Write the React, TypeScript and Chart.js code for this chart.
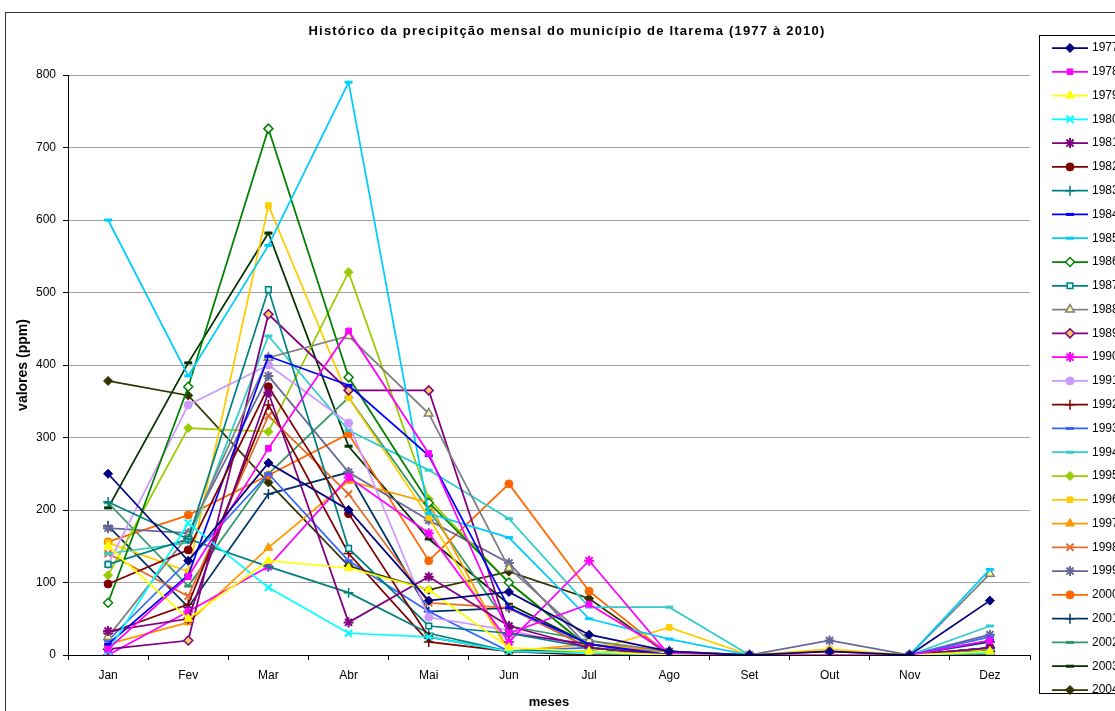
import React, { useEffect, useRef } from 'react';
import { Chart, registerables } from 'chart.js';
import { drawPoint } from 'chart.js/helpers';

Chart.register(...registerables);

const MONTHS = ['Jan', 'Fev', 'Mar', 'Abr', 'Mai', 'Jun', 'Jul', 'Ago', 'Set', 'Out', 'Nov', 'Dez'];
const Y_TICKS = [0, 100, 200, 300, 400, 500, 600, 700, 800];

const v1977 = [250, 130, 265, 200, 75, 87, 28, 5, 0, 5, 0, 75];
const v1978 = [8, 108, 285, 447, 278, 30, 70, 3, 0, 0, 0, 20];
const v1979 = [150, 50, 130, 120, 90, 10, 5, 0, 0, 0, 0, 5];
const v1980 = [5, 182, 93, 30, 25, 5, 3, 0, 0, 0, 0, 3];
const v1981 = [33, 50, 362, 45, 108, 40, 10, 0, 0, 0, 0, 10];
const v1982 = [98, 145, 370, 195, 25, 5, 0, 0, 0, 0, 0, 5];
const v1983 = [211, 160, 122, 86, 30, 5, 5, 0, 0, 0, 0, 10];
const v1984 = [15, 110, 412, 372, 275, 65, 15, 0, 0, 0, 0, 20];
const v1985 = [600, 385, 565, 790, 195, 162, 50, 22, 0, 0, 0, 118];
const v1986 = [72, 370, 726, 383, 210, 100, 10, 0, 0, 0, 0, 5];
const v1987 = [125, 160, 504, 147, 40, 30, 10, 0, 0, 0, 0, 5];
const v1988 = [25, 165, 410, 440, 333, 120, 20, 5, 0, 0, 0, 112];
const v1989 = [8, 20, 470, 365, 365, 30, 15, 0, 0, 0, 0, 10];
const v1990 = [0, 60, 122, 245, 168, 18, 130, 0, 0, 0, 0, 5];
const v1991 = [125, 345, 400, 320, 52, 34, 10, 0, 0, 0, 0, 10];
const v1992 = [30, 70, 345, 140, 18, 5, 5, 0, 0, 0, 0, 5];
const v1993 = [20, 130, 250, 130, 60, 5, 10, 0, 0, 0, 0, 25];
const v1994 = [140, 155, 440, 310, 255, 188, 66, 66, 0, 0, 0, 40];
const v1995 = [110, 313, 308, 528, 215, 100, 10, 0, 0, 0, 0, 8];
const v1996 = [155, 115, 620, 355, 190, 5, 5, 38, 0, 8, 0, 5];
const v1997 = [15, 45, 148, 240, 210, 5, 15, 5, 0, 0, 0, 5];
const v1998 = [140, 81, 330, 222, 72, 65, 10, 0, 0, 0, 0, 5];
const v1999 = [175, 168, 385, 252, 186, 127, 10, 5, 0, 20, 0, 28];
const v2000 = [156, 193, 248, 305, 130, 236, 88, 0, 0, 5, 0, 5];
const v2001 = [178, 66, 222, 252, 60, 65, 10, 0, 0, 0, 0, 18];
const v2002 = [210, 95, 250, 355, 200, 40, 20, 0, 0, 0, 0, 10];
const v2003 = [203, 403, 582, 288, 160, 70, 15, 0, 0, 0, 0, 10];
const v2004 = [378, 358, 238, 123, 90, 115, 78, 0, 0, 0, 0, 0];

const SERIES: [string, number[]][] = [
  ['1977', v1977], ['1978', v1978], ['1979', v1979], ['1980', v1980], ['1981', v1981],
  ['1982', v1982], ['1983', v1983], ['1984', v1984], ['1985', v1985], ['1986', v1986],
  ['1987', v1987], ['1988', v1988], ['1989', v1989], ['1990', v1990], ['1991', v1991],
  ['1992', v1992], ['1993', v1993], ['1994', v1994], ['1995', v1995], ['1996', v1996],
  ['1997', v1997], ['1998', v1998], ['1999', v1999], ['2000', v2000], ['2001', v2001],
  ['2002', v2002], ['2003', v2003], ['2004', v2004],
];

type St = { c: string; f?: string; p: string; r: number; bw: number };
const STYLE: Record<string, St> = {
  '1977': { c: '#000080', f: '#000080', p: 'rectRot', r: 4.5, bw: 1 },
  '1978': { c: '#FF00FF', f: '#FF00FF', p: 'rect', r: 4, bw: 1 },
  '1979': { c: '#FFFF00', f: '#FFFF00', p: 'triangle', r: 5, bw: 1 },
  '1980': { c: '#00FFFF', p: 'crossRot', r: 5, bw: 2 },
  '1981': { c: '#800080', p: 'star', r: 5, bw: 2 },
  '1982': { c: '#800000', f: '#800000', p: 'circle', r: 4, bw: 1 },
  '1983': { c: '#008080', p: 'cross', r: 5, bw: 1.5 },
  '1984': { c: '#0000FF', p: 'line', r: 4, bw: 3 },
  '1985': { c: '#00CCFF', p: 'line', r: 4, bw: 3 },
  '1986': { c: '#008000', f: '#FFFFFF', p: 'rectRot', r: 4.5, bw: 1.5 },
  '1987': { c: '#008080', f: '#CCFFFF', p: 'rect', r: 4, bw: 1.5 },
  '1988': { c: '#808080', f: '#FFFF99', p: 'triangle', r: 5, bw: 1.5 },
  '1989': { c: '#800080', f: '#FFCC66', p: 'rectRot', r: 4.5, bw: 1.5 },
  '1990': { c: '#FF00FF', p: 'star', r: 5, bw: 2 },
  '1991': { c: '#CC99FF', f: '#CC99FF', p: 'circle', r: 4, bw: 1 },
  '1992': { c: '#800000', p: 'cross', r: 5, bw: 1.5 },
  '1993': { c: '#3366FF', p: 'line', r: 4, bw: 3 },
  '1994': { c: '#33CCCC', p: 'line', r: 4, bw: 3 },
  '1995': { c: '#99CC00', f: '#99CC00', p: 'rectRot', r: 4.5, bw: 1 },
  '1996': { c: '#FFCC00', f: '#FFCC00', p: 'rect', r: 4, bw: 1 },
  '1997': { c: '#FF9900', f: '#FF9900', p: 'triangle', r: 5, bw: 1 },
  '1998': { c: '#E46C2A', p: 'crossRot', r: 5, bw: 2 },
  '1999': { c: '#666699', p: 'star', r: 5, bw: 2 },
  '2000': { c: '#FF6600', f: '#FF6600', p: 'circle', r: 4, bw: 1 },
  '2001': { c: '#003366', p: 'cross', r: 5, bw: 1.5 },
  '2002': { c: '#339966', p: 'line', r: 4, bw: 3 },
  '2003': { c: '#003300', p: 'line', r: 4, bw: 3 },
  '2004': { c: '#333300', f: '#333300', p: 'rectRot', r: 4.5, bw: 1 },
};

const FONT = "'Liberation Sans', Arial, sans-serif";

const framePlugin = {
  id: 'frame',
  beforeDraw(chart: any) {
    const ctx = chart.ctx;
    ctx.save();
    ctx.fillStyle = '#ffffff';
    ctx.fillRect(0, 0, chart.width, chart.height);
    ctx.restore();
  },
  afterDraw(chart: any) {
    const ctx = chart.ctx;
    ctx.save();
    // outer border
    ctx.strokeStyle = '#333333';
    ctx.lineWidth = 1;
    ctx.strokeRect(5.5, 12.5, 1300, 800);
    // title
    ctx.fillStyle = '#000000';
    ctx.font = `bold 13px ${FONT}`;
    ctx.textAlign = 'center';
    ctx.textBaseline = 'middle';
    (ctx as any).letterSpacing = '1.2px';
    ctx.fillText('Histórico da precipitção mensal do município de Itarema (1977 à 2010)', 567, 31);
    (ctx as any).letterSpacing = '0px';
    // legend
    ctx.fillStyle = '#ffffff';
    ctx.fillRect(1039.5, 35.5, 200, 658);
    ctx.strokeStyle = '#000000';
    ctx.strokeRect(1039.5, 35.5, 200, 658);
    const step = (690 - 48) / 27;
    chart.data.datasets.forEach((ds: any, i: number) => {
      const y = 48 + i * step;
      const st = STYLE[ds.label];
      ctx.strokeStyle = st.c;
      ctx.lineWidth = 1.75;
      ctx.beginPath();
      ctx.moveTo(1052, y);
      ctx.lineTo(1088, y);
      ctx.stroke();
      ctx.fillStyle = st.f || st.c;
      ctx.strokeStyle = st.c;
      ctx.lineWidth = st.bw;
      drawPoint(ctx, { pointStyle: st.p, radius: st.r, borderWidth: st.bw, rotation: 0 }, 1070, y);
      ctx.fillStyle = '#000000';
      ctx.font = `12px ${FONT}`;
      ctx.textAlign = 'left';
      ctx.textBaseline = 'middle';
      ctx.fillText(ds.label, 1092, y);
    });
    ctx.restore();
  },
};

export default function App() {
  const ref = useRef<HTMLCanvasElement>(null);
  useEffect(() => {
    if (!ref.current) return;
    const datasets = SERIES.map(([label, data]) => {
      const st = STYLE[label];
      return {
        label,
        data,
        borderColor: st.c,
        backgroundColor: st.f || st.c,
        borderWidth: 1.75,
        pointStyle: st.p,
        pointRadius: st.r,
        pointHoverRadius: st.r,
        pointBorderWidth: st.bw,
        pointBorderColor: st.c,
        pointBackgroundColor: st.f || st.c,
        tension: 0,
        fill: false,
      };
    });
    const chart = new Chart(ref.current, {
      type: 'line',
      data: { labels: MONTHS, datasets },
      options: {
        animation: false,
        responsive: false,
        maintainAspectRatio: false,
        layout: { padding: { left: 8, top: 75, right: 85, bottom: 0 } },
        plugins: {
          legend: { display: false },
          title: { display: false },
          tooltip: { enabled: false },
        },
        scales: {
          x: {
            type: 'category',
            offset: true,
            afterFit: (s: any) => { s.height = 56; },
            grid: { display: true, drawOnChartArea: false, drawTicks: true, tickLength: 5, offset: true, color: '#000', tickColor: '#000' },
            border: { display: true, color: '#000', width: 1 },
            ticks: { color: '#000', padding: 8, font: { family: FONT, size: 12 }, maxRotation: 0, autoSkip: false },
            title: { display: true, text: 'meses', color: '#000', font: { family: FONT, size: 13, weight: 'bold' }, padding: { top: 0, bottom: 1 } },
          },
          y: {
            min: 0,
            max: 800,
            afterFit: (s: any) => { s.width = 60; },
            afterBuildTicks: (s: any) => { s.ticks = Y_TICKS.map((v) => ({ value: v })); },
            grid: { color: '#A0A0A0', lineWidth: 1, tickLength: 5, tickColor: '#000' },
            border: { display: true, color: '#000', width: 1 },
            ticks: { color: '#000', padding: 7, font: { family: FONT, size: 12 } },
            title: { display: true, text: 'valores (ppm)', color: '#000', font: { family: FONT, size: 14, weight: 'bold' }, padding: { top: 7, bottom: 4 } },
          },
        },
      },
      plugins: [framePlugin],
    });
    return () => chart.destroy();
  }, []);
  return (
    <div style={{ position: 'absolute', left: 0, top: 0, width: 1115, height: 711 }}>
      <canvas ref={ref} width={1115} height={711} style={{ display: 'block', width: 1115, height: 711 }} />
    </div>
  );
}
